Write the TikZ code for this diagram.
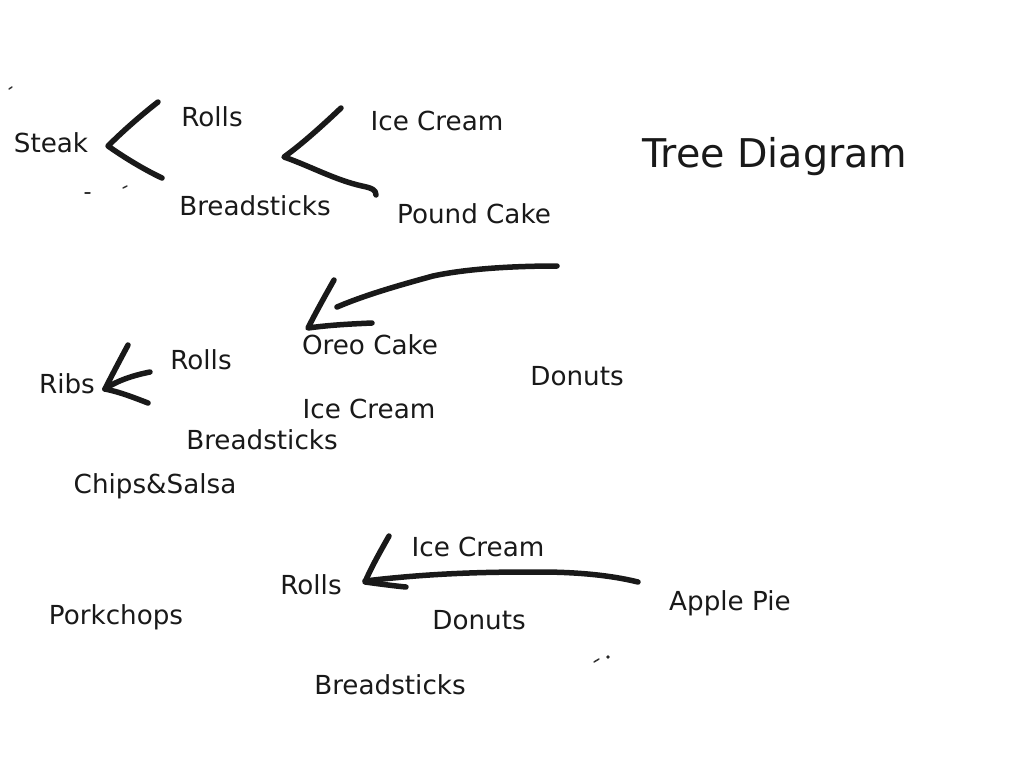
\documentclass[tikz,border=0pt]{standalone}
\usepackage{fontspec}
\setmainfont{DejaVu Sans}
\begin{document}
\begin{tikzpicture}[x=1pt,y=-1pt,
  lbl/.style={inner sep=0pt,font=\fontsize{26.2}{30}\selectfont,text=black!90},
  title/.style={inner sep=0pt,font=\fontsize{39.6}{46}\selectfont,text=black!90},
  ink/.style={line width=5.5pt,line cap=round,line join=round,black!90},
  speck/.style={line width=1.5pt,line cap=round,black!80}]
\useasboundingbox[fill=white] (0,0) rectangle (1024,768);
% labels
\node[lbl] (steak) at (51,143) {Steak};
\node[lbl] (rolls1) at (212,117) {Rolls};
\node[lbl] (bread1) at (255,206) {Breadsticks};
\node[lbl] (ice1) at (437,121) {Ice Cream};
\node[lbl] (pound) at (474,214) {Pound Cake};
\node[title] (title) at (775,157) {Tree Diagram};
\node[lbl] (oreo) at (370,345) {Oreo Cake};
\node[lbl] (donuts1) at (577,376) {Donuts};
\node[lbl] (ribs) at (67,384) {Ribs};
\node[lbl] (rolls2) at (201,360) {Rolls};
\node[lbl] (ice2) at (369,409) {Ice Cream};
\node[lbl] (bread2) at (262,440) {Breadsticks};
\node[lbl] (chips) at (155,486) {Chips\&Salsa};
\node[lbl] (ice3) at (478,547) {Ice Cream};
\node[lbl] (rolls3) at (311,585) {Rolls};
\node[lbl] (apple) at (730,603) {Apple Pie};
\node[lbl] (pork) at (116,617) {Porkchops};
\node[lbl] (donuts2) at (479,620) {Donuts};
\node[lbl] (bread3) at (390,685) {Breadsticks};
% hand-drawn strokes
\draw[ink] (158,102) .. controls (140,116) and (122,132) .. (108,146)
  .. controls (125,158) and (145,170) .. (162,178);
\draw[ink] (341,108) .. controls (322,126) and (302,144) .. (284,157)
  .. controls (310,166) and (335,180) .. (362,186)
  .. controls (372,188) and (376,190) .. (376,195);
\draw[ink] (557,266) .. controls (520,266) and (470,268) .. (433,276)
  .. controls (400,285) and (365,295) .. (337,307);
\draw[ink] (334,280) .. controls (325,296) and (316,312) .. (308,328)
  .. controls (330,325) and (350,324) .. (372,323);
\draw[ink] (128,345) .. controls (120,360) and (112,375) .. (105,389);
\draw[ink] (105,389) .. controls (118,380) and (135,375) .. (150,372);
\draw[ink] (105,389) .. controls (120,392) and (135,398) .. (148,403);
\draw[ink] (638,582) .. controls (610,575) and (575,572) .. (540,572)
  .. controls (500,572) and (440,572) .. (365,581);
\draw[ink] (389,536) .. controls (380,552) and (372,566) .. (365,582)
  .. controls (380,584) and (395,586) .. (406,587);
% specks
\draw[speck] (9,89) -- (12,87);
\draw[speck] (85,193) -- (90,193);
\draw[speck] (123,188) -- (127,186);
\draw[speck] (594,662) -- (599,659);
\fill[black!85] (608,657) circle (1.8);
\end{tikzpicture}
\end{document}
